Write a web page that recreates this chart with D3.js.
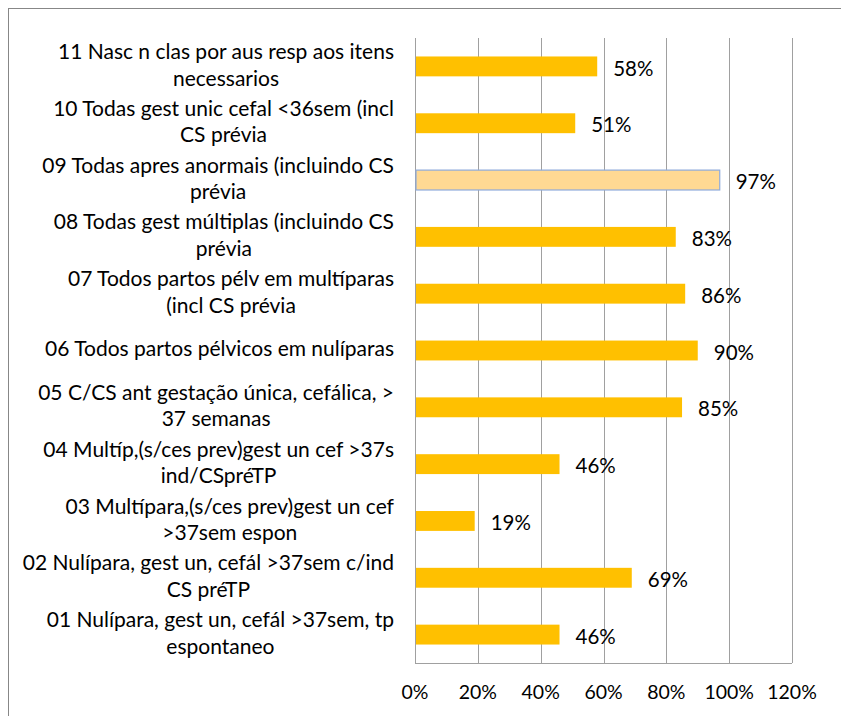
<!DOCTYPE html>
<html>
<head>
<meta charset="utf-8">
<style>
  body { margin: 0; background: #fff; }
  text { font-family: Lato, "Open Sans", sans-serif; fill: #000; }
</style>
<script src="https://cdn.jsdelivr.net/npm/d3@7"></script>
</head>
<body>
<script>
// categories, top to bottom ("|" marks the line break in the label)
var categories = [
  "11 Nasc n clas por aus resp aos itens|necessarios",
  "10 Todas gest unic cefal <36sem (incl|CS prévia",
  "09 Todas apres anormais (incluindo CS|prévia",
  "08 Todas gest múltiplas (incluindo CS|prévia",
  "07 Todos partos pélv em multíparas|(incl CS prévia",
  "06 Todos partos pélvicos em nulíparas",
  "05 C/CS ant gestação única, cefálica, >|37 semanas",
  "04 Multíp,(s/ces prev)gest un cef >37s|ind/CSpréTP",
  "03 Multípara,(s/ces prev)gest un cef|>37sem espon",
  "02 Nulípara, gest un, cefál >37sem c/ind|CS préTP",
  "01 Nulípara, gest un, cefál >37sem, tp|espontaneo"
];
var values = [58, 51, 97, 83, 86, 90, 85, 46, 19, 69, 46];
var highlighted = ["09"];
var xTicks = [0, 20, 40, 60, 80, 100, 120];

var width = 841, height = 716;
var margin = {top: 38, left: 415, right: 49, bottom: 53};

var svg = d3.select("body").append("svg")
  .attr("width", width)
  .attr("height", height);

// chart frame
svg.append("rect")
  .attr("x", 8.5).attr("y", 8.5)
  .attr("width", 900).attr("height", 800)
  .attr("fill", "none")
  .attr("stroke", "#878787");

var x = d3.scaleLinear().domain([0, 120]).range([margin.left, width - margin.right]);
var y = d3.scaleBand().domain(categories)
  .range([margin.top, height - margin.bottom])
  .paddingInner(0.65).paddingOuter(0.325);

// gridlines
svg.selectAll(".grid").data(xTicks).enter().append("line")
  .attr("x1", function (d) { return Math.round(x(d)) + 0.5; })
  .attr("x2", function (d) { return Math.round(x(d)) + 0.5; })
  .attr("y1", margin.top)
  .attr("y2", height - margin.bottom)
  .attr("stroke", "#a0a0a0");

svg.append("line")
  .attr("x1", x(0)).attr("x2", x(120))
  .attr("y1", Math.round(height - margin.bottom) + 0.5)
  .attr("y2", Math.round(height - margin.bottom) + 0.5)
  .attr("stroke", "#a0a0a0");

// x tick labels
svg.selectAll(".xt").data(xTicks).enter().append("text")
  .attr("x", function (d) { return x(d); })
  .attr("y", height - margin.bottom + 29)
  .attr("dy", "0.35em")
  .attr("text-anchor", "middle")
  .style("font-size", "19.5px")
  .text(function (d) { return d + "%"; });

var data = categories.map(function (c, i) { return {cat: c, value: values[i]}; });
function isHi(d) { return highlighted.indexOf(d.cat.slice(0, 2)) >= 0; }

// bars
svg.selectAll(".bar").data(data).enter().append("rect")
  .attr("x", x(0) + 1)
  .attr("y", function (d) { return y(d.cat); })
  .attr("width", function (d) { return x(d.value) - x(0) - 1; })
  .attr("height", y.bandwidth())
  .attr("fill", function (d) { return isHi(d) ? "#ffd993" : "#ffc000"; })
  .attr("stroke", function (d) { return isHi(d) ? "#8eaadb" : "none"; })
  .attr("stroke-width", 1.2);

// value labels
svg.selectAll(".val").data(data).enter().append("text")
  .attr("x", function (d) { return x(d.value) + 16; })
  .attr("y", function (d) { return y(d.cat) + y.bandwidth() / 2 + 2; })
  .attr("dy", "0.35em")
  .style("font-size", "20.5px")
  .text(function (d) { return d.value + "%"; });

// category labels: wrapped, lines centred, block right-aligned
var labelRight = x(0) - 21;
var lineH = 26.5;
data.forEach(function (d) {
  var lines = d.cat.split("|");
  var cy = y(d.cat) + y.bandwidth() / 2 - 1.5;
  var g = svg.append("g");
  var texts = lines.map(function (ln, i) {
    return g.append("text")
      .attr("y", cy + (i - (lines.length - 1) / 2) * lineH)
      .attr("dy", "0.35em")
      .attr("text-anchor", "middle")
      .style("font-size", "21px")
      .text(ln);
  });
  var w = d3.max(texts, function (t) { return t.node().getComputedTextLength(); });
  texts.forEach(function (t) { t.attr("x", labelRight - w / 2); });
});
</script>
</body>
</html>
